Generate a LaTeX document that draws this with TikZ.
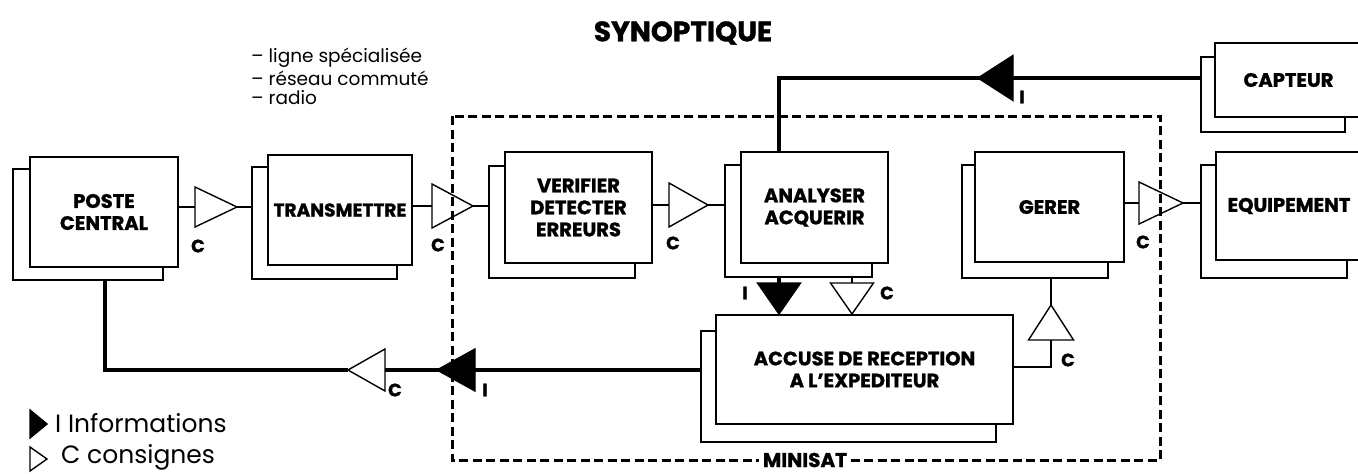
\documentclass[tikz,border=0pt]{standalone}
\usepackage{fontspec}
\setmainfont{Poppins}[BoldFeatures={FakeBold=1.2}]
\usetikzlibrary{calc}
\newcommand\tri[4]{\draw[thinl,line join=miter,fill=#4] ($(#1)!#3!90:(#2)$) -- (#2) -- ($(#1)!#3!-90:(#2)$) -- cycle;}
\begin{document}
\begin{tikzpicture}[x=1pt,y=-1pt,
  box/.style={draw, line width=1.4pt, fill=white, inner sep=0pt, outer sep=0pt, font=\bfseries\fontsize{19.5}{22}\selectfont, align=center},
  thinl/.style={line width=1.4pt},
  heavy/.style={line width=4.5pt},
  lab/.style={font=\bfseries\fontsize{18}{18}\selectfont, inner sep=0pt},
  txt/.style={font=\fontsize{18.5}{20}\selectfont, anchor=west, inner sep=0pt},
  legtxt/.style={font=\fontsize{25}{26}\selectfont, anchor=west, inner sep=0pt},
  frame/.style={draw, line width=3pt, dash pattern=on 9pt off 4.5pt}
]
\useasboundingbox (0,0) rectangle (1358,474);

% title and transmission list
\node[font=\bfseries\fontsize{28}{30}\selectfont] (title) at (683,33) {SYNOPTIQUE};
\node[txt] (l1) at (251,58) {– ligne spécialisée};
\node[txt] (l2) at (251,78) {– réseau commuté};
\node[txt] (l3) at (251,98) {– radio};

% MINISAT frame
\coordinate (m1) at (452,116);
\coordinate (m2) at (1160,460);
\draw[frame] (m1) rectangle (m2);
\node[lab, font=\bfseries\fontsize{20}{20}\selectfont, fill=white, inner xsep=4pt, inner ysep=3pt] (ms) at (805,460) {MINISAT};

% double boxes
\node[box, minimum width=150pt, minimum height=111pt] (pcB) at (88,224.5) {};
\node[box, minimum width=148pt, minimum height=110pt] (pc) at (104,212) {POSTE\\CENTRAL};

\node[box, minimum width=145pt, minimum height=112pt] (trB) at (324.5,223) {};
\node[box, minimum width=144pt, minimum height=110pt, font=\bfseries\fontsize{18.5}{22}\selectfont] (tr) at (340,210) {TRANSMETTRE};

\node[box, minimum width=146pt, minimum height=112pt] (veB) at (562,222) {};
\node[box, minimum width=147pt, minimum height=111pt] (ve) at (578.5,207.5) {VERIFIER\\DETECTER\\ERREURS};

\node[box, minimum width=147pt, minimum height=112pt] (anB) at (798.5,221) {};
\node[box, minimum width=147pt, minimum height=111pt] (an) at (814.5,207.5) {ANALYSER\\ACQUERIR};

\node[box, minimum width=146pt, minimum height=113pt] (geB) at (1035,221.5) {};
\node[box, minimum width=149pt, minimum height=110pt] (ge) at (1049.5,207) {GERER};

\node[box, minimum width=144pt, minimum height=75pt] (caB) at (1273,94.5) {};
\node[box, minimum width=147pt, minimum height=74pt] (ca) at (1288.5,80) {CAPTEUR};

\node[box, minimum width=146pt, minimum height=113pt] (eqB) at (1274,221.5) {};
\node[box, minimum width=146pt, minimum height=108pt] (eq) at (1289,206) {EQUIPEMENT};

\node[box, minimum width=295pt, minimum height=111pt] (acB) at (848.5,386.5) {};
\node[box, minimum width=297pt, minimum height=109pt] (ac) at (864.5,369.5) {ACCUSE DE RECEPTION\\A L'EXPEDITEUR};

% C connectors along the chain
\coordinate (t1b) at (195,207); \coordinate (t1a) at (237,207);
\draw[thinl] (t1b -| pc.east) -- (t1b);
\tri{t1b}{t1a}{20pt}{none}
\draw[thinl] (t1a) -- (t1a -| trB.west);
\node[lab] (c1) at (198,246) {C};

\coordinate (t2b) at (432,206); \coordinate (t2a) at (473,206);
\draw[thinl] (t2b -| tr.east) -- (t2b);
\tri{t2b}{t2a}{22pt}{none}
\draw[thinl] (t2a) -- (t2a -| veB.west);
\node[lab] (c2) at (438,245) {C};

\coordinate (t3b) at (669,205); \coordinate (t3a) at (708,205);
\draw[thinl] (t3b -| ve.east) -- (t3b);
\tri{t3b}{t3a}{22pt}{none}
\draw[thinl] (t3a) -- (t3a -| anB.west);
\node[lab] (c3) at (673,243) {C};

\coordinate (t4b) at (1139,203); \coordinate (t4a) at (1183,203);
\draw[thinl] (t4b -| ge.east) -- (t4b);
\tri{t4b}{t4a}{21pt}{none}
\draw[thinl] (t4a) -- (t4a -| eqB.west);
\node[lab] (c4) at (1143,242) {C};

% ANALYSER -> ACCUSE
\coordinate (dIb) at (779,283); \coordinate (dIa) at (779,314);
\draw[heavy] (dIb |- anB.south) -- (dIb);
\tri{dIb}{dIa}{21.5pt}{black}
\node[lab] (i1) at (745,293) {I};

\coordinate (dCb) at (852,283); \coordinate (dCa) at (852,314);
\draw[thinl] (dCb |- anB.south) -- (dCb);
\tri{dCb}{dCa}{21.5pt}{none}
\node[lab] (c5) at (887,293) {C};

% ACCUSE -> GERER
\coordinate (uk) at (1051,367);
\coordinate (ub) at (1051,340); \coordinate (ua) at (1051,305);
\draw[thinl] (uk -| ac.east) -- (uk) -- (ub);
\tri{ub}{ua}{22.5pt}{none}
\draw[thinl] (ua) -- (ua |- geB.south);
\node[lab] (c6) at (1068,360) {C};

% CAPTEUR -> ANALYSER (information)
\coordinate (tk) at (779,78);
\coordinate (tIb) at (1013,78); \coordinate (tIa) at (978,78);
\draw[heavy] (tk |- an.north) -- (tk) -- (tk -| caB.west);
\tri{tIb}{tIa}{22.5pt}{black}
\node[lab] (i2) at (1022,97) {I};

% ACCUSE -> POSTE CENTRAL
\coordinate (bk) at (105,370);
\coordinate (bIb) at (475,370); \coordinate (bIa) at (437,370);
\coordinate (bCb) at (385,370); \coordinate (bCa) at (348,370);
\draw[heavy] (bk -| acB.west) -- (bCb);
\draw[heavy] (bCa) -- (bk) -- (bk |- pcB.south);
\tri{bIb}{bIa}{21pt}{black}
\tri{bCb}{bCa}{21pt}{none}
\node[lab] (c7) at (395,390) {C};
\node[lab] (i3) at (485,390) {I};

% legend
\coordinate (lg1b) at (30,424); \coordinate (lg1a) at (47,424);
\tri{lg1b}{lg1a}{14pt}{black}
\node[legtxt] (lgI) at (55,423) {I Informations};
\coordinate (lg2b) at (30,459); \coordinate (lg2a) at (47,459);
\tri{lg2b}{lg2a}{12pt}{none}
\node[legtxt] (lgC) at (61,457) {C consignes};
\end{tikzpicture}
\end{document}
